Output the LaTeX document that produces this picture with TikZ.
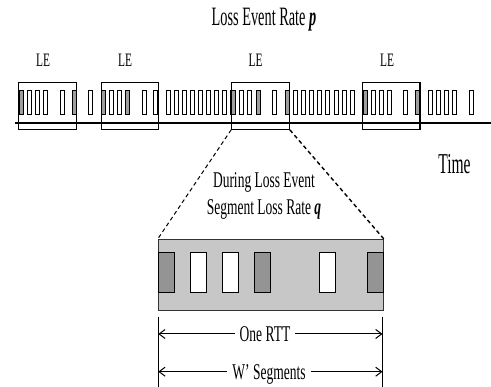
\documentclass[tikz,border=0pt]{standalone}
\usepackage{fontspec}
\setmainfont[FakeStretch=0.6]{Liberation Serif}
\newfontfamily\narrowA[FakeStretch=0.54]{Liberation Serif}
\usetikzlibrary{arrows.meta}
\tikzset{
  pkt/.style={draw=black, line width=0.8pt, fill=white, minimum width=4.2pt, minimum height=23.6pt, inner sep=0pt},
  pkts/.style={pkt, fill=black!38},
  bigpkt/.style={draw=black, line width=1pt, fill=white, minimum width=16pt, minimum height=40pt, inner sep=0pt},
  bigpkts/.style={bigpkt, fill=black!42},
  lebox/.style={draw=black, line width=1.1pt, minimum height=47pt, inner sep=0pt},
  lelbl/.style={font=\fontsize{19}{20}\selectfont, anchor=base, inner sep=0pt},
  txt/.style={font=\fontsize{22.5}{24}\selectfont, anchor=base, inner sep=0pt},
  bigtxt/.style={anchor=base, inner sep=0pt},
  dimlbl/.style={font=\fontsize{22.5}{24}\selectfont, inner xsep=5pt, inner ysep=0pt, text height=15pt, text depth=0pt},
  dimline/.style={-{Straight Barb[length=6pt,width=9pt]}, line width=1pt},
  zoomline/.style={dashed, dash pattern=on 4pt off 3pt, line width=1pt}
}
\begin{document}
\begin{tikzpicture}[x=1pt,y=-1pt]
\useasboundingbox (0,0) rectangle (491,387);
% title
\node[bigtxt, font=\narrowA\fontsize{26.5}{28}\selectfont] (title) at (264,26) {Loss Event Rate \textbf{\textit{p}}};
% LE labels
\node[lelbl] (lt1) at (43,67) {LE};
\node[lelbl] (lt2) at (125,67) {LE};
\node[lelbl] (lt3) at (255.5,67) {LE};
\node[lelbl] (lt4) at (387,67) {LE};
% time line
\coordinate (tl0) at (15,122.7);
\coordinate (tl1) at (491,122.7);
\draw[line width=2pt] (tl0) -- (tl1);
% packets
\foreach \x [count=\i] in {29.2,37.2,45.2,62,90.7,111.3,119.3,144.2,155.3,168,176,184,192,200.2,208.2,216.2,224.2,241,249.5,274.7,295.3,303.3,311.3,319.3,327.3,336,344,352,373.3,381.3,389.3,405.3,430.7,438.7,446.7,454.7,471.3}
  \node[pkt] (w\i) at (\x,102.5) {};
\foreach \x [count=\i] in {21.3,74,103.3,127,232.9,258.3,287.3,365,417.7}
  \node[pkts] (s\i) at (\x,102.5) {};
% LE boxes
\node[lebox, minimum width=58pt] (le1) at (47.7,105.8) {};
\node[lebox, minimum width=57.3pt] (le2) at (129.7,105.8) {};
\node[lebox, minimum width=57.6pt] (le3) at (260.5,105.8) {};
\node[lebox, minimum width=57.3pt] (le4) at (391.3,105.8) {};
% Time
\node[bigtxt, font=\narrowA\fontsize{28.8}{30}\selectfont] (time) at (454.5,174) {Time};
% zoom texts
\node[txt] (during) at (264,187.5) {During Loss Event};
\node[txt] (seg) at (264,215) {Segment Loss Rate \textbf{\textit{q}}};
% zoom strip
\node[draw=black!80, fill=black!22, line width=0.9pt, minimum width=225pt, minimum height=71.4pt, inner sep=0pt] (strip) at (270.8,275) {};
\node[bigpkts] (z1) at (166.3,272.7) {};
\node[bigpkt] (z2) at (198.7,272.7) {};
\node[bigpkt] (z3) at (230.5,272.7) {};
\node[bigpkts] (z4) at (262.7,272.7) {};
\node[bigpkt] (z5) at (327.2,272.7) {};
\node[bigpkts] (z6) at (375.5,272.7) {};
% dashed zoom lines
\draw[zoomline] (le3.south west) -- (strip.north west);
\draw[zoomline, line width=1.4pt] (le3.south east) -- (strip.north east);
% vertical lines
\coordinate (vL0) at (158.3,316.7);
\coordinate (vL1) at (158.3,387);
\coordinate (vR0) at (382.5,316.7);
\coordinate (vR1) at (382.5,387);
\draw[line width=1pt] (vL0) -- (vL1);
\draw[line width=1pt] (vR0) -- (vR1);
% dimension arrows
\coordinate (rttL) at (158.3,334);
\coordinate (rttR) at (382.5,334);
\node[dimlbl] (rtt) at (265,334) {One RTT};
\draw[dimline] (rtt.west) -- (rttL);
\draw[dimline] (rtt.east) -- (rttR);
\coordinate (wL) at (158.3,371.7);
\coordinate (wR) at (382.5,371.7);
\node[dimlbl] (wseg) at (269,371.7) {W' Segments};
\draw[dimline] (wseg.west) -- (wL);
\draw[dimline] (wseg.east) -- (wR);
\end{tikzpicture}
\end{document}
